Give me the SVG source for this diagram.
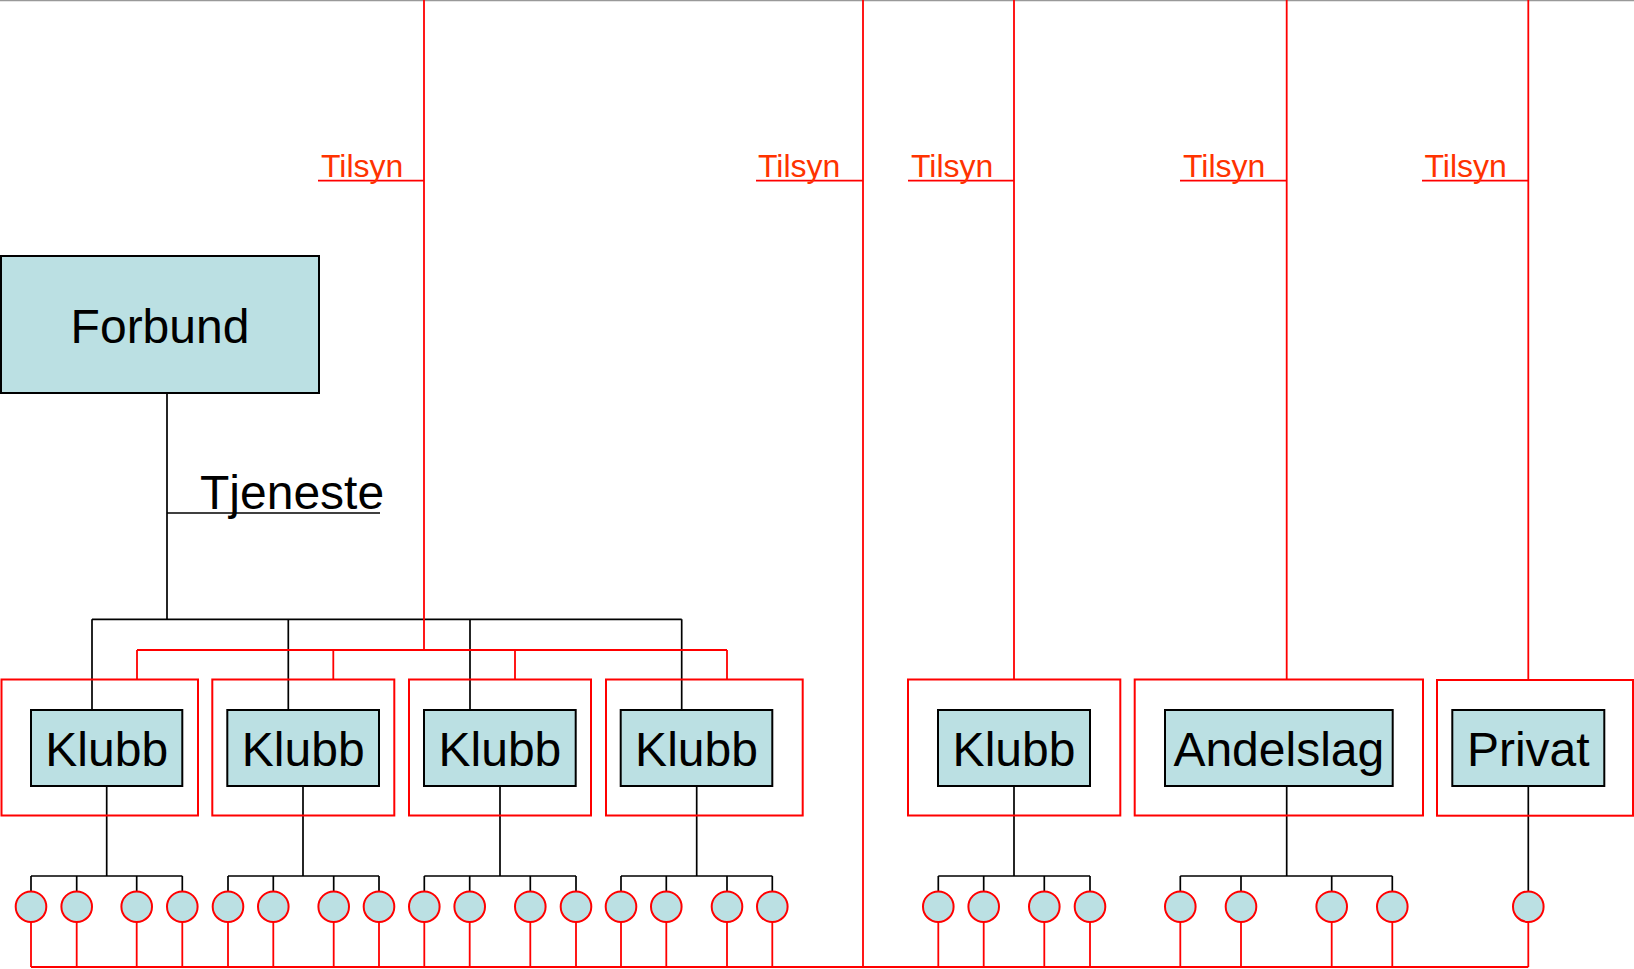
<svg xmlns="http://www.w3.org/2000/svg" width="1634" height="969" viewBox="0 0 1634 969">
<style>
.node{fill:#BBE0E3;stroke:#000;stroke-width:2}
.frame{fill:none;stroke:#FF0000;stroke-width:2}
.blk{fill:none;stroke:#000;stroke-width:1.7}
.red{fill:none;stroke:#FF0000;stroke-width:1.8}
.dot{fill:#BBE0E3;stroke:#FF0000;stroke-width:2}
.big{font-family:"Liberation Sans",Arial,sans-serif;font-size:48px;fill:#000}
.til{font-family:"Liberation Sans",Arial,sans-serif;font-size:32px;fill:#FF3300}
</style>
<rect x="0" y="0" width="1634" height="969" fill="#fff"/>
<line x1="0" y1="0.5" x2="1634" y2="0.5" stroke="#999" stroke-width="1.5"/>

<g id="connectors">
  <path class="blk" d="M167,393 V619.3 M92,619.3 H681.7 M92,619.3 V710 M288.3,619.3 V710 M470,619.3 V710 M681.7,619.3 V710"/>
  <path class="blk" d="M167,513 H380"/>
  <path class="red" d="M424,0 V650 M318,180.7 H424 M137,650 H727 M137,650 V679.5 M333.3,650 V679.5 M515,650 V679.5 M727,650 V679.5"/>
  <path class="red" d="M863,0 V967 M756,180.7 H863"/>
  <path class="red" d="M1014,0 V679.5 M908,180.7 H1014"/>
  <path class="red" d="M1286.7,0 V679.5 M1180,180.7 H1286.7"/>
  <path class="red" d="M1528.3,0 V680 M1422,180.7 H1528.3"/>
  <path class="blk" d="M106.7,786 V876 M31,876 H182.3 M31,876 V891.4 M76.7,876 V891.4 M136.7,876 V891.4 M182.3,876 V891.4"/>
  <path class="blk" d="M303,786 V876 M228,876 H379 M228,876 V891.4 M273.3,876 V891.4 M333.7,876 V891.4 M379,876 V891.4"/>
  <path class="blk" d="M500,786 V876 M424.3,876 H576 M424.3,876 V891.4 M469.7,876 V891.4 M530.3,876 V891.4 M576,876 V891.4"/>
  <path class="blk" d="M696.7,786 V876 M621,876 H772.3 M621,876 V891.4 M666.3,876 V891.4 M727,876 V891.4 M772.3,876 V891.4"/>
  <path class="blk" d="M1014,786 V876 M938.3,876 H1090 M938.3,876 V891.4 M983.7,876 V891.4 M1044.3,876 V891.4 M1090,876 V891.4"/>
  <path class="blk" d="M1286.7,786 V876 M1180.3,876 H1392.3 M1180.3,876 V891.4 M1241,876 V891.4 M1331.7,876 V891.4 M1392.3,876 V891.4"/>
  <path class="blk" d="M1528.3,786 V891.4"/>
  <path class="red" d="M31,967 H1528.3
    M31,922 V967 M76.7,922 V967 M136.7,922 V967 M182.3,922 V967
    M228,922 V967 M273.3,922 V967 M333.7,922 V967 M379,922 V967
    M424.3,922 V967 M469.7,922 V967 M530.3,922 V967 M576,922 V967
    M621,922 V967 M666.3,922 V967 M727,922 V967 M772.3,922 V967
    M938.3,922 V967 M983.7,922 V967 M1044.3,922 V967 M1090,922 V967
    M1180.3,922 V967 M1241,922 V967 M1331.7,922 V967 M1392.3,922 V967
    M1528.3,922 V967"/>
</g>

<g id="tilsyn-labels">
  <text class="til" x="321" y="177">Tilsyn</text>
  <text class="til" x="758" y="177">Tilsyn</text>
  <text class="til" x="911" y="177">Tilsyn</text>
  <text class="til" x="1183" y="177">Tilsyn</text>
  <text class="til" x="1424.5" y="177">Tilsyn</text>
</g>
<g id="tjeneste-label">
  <text class="big" x="200" y="509">Tjeneste</text>
</g>

<g id="forbund">
  <rect class="node" x="1" y="256" width="318" height="137"/>
  <text class="big" x="160" y="343" text-anchor="middle">Forbund</text>
</g>

<g id="klubb1">
  <rect class="frame" x="1.5" y="679.5" width="196.5" height="136"/>
  <rect class="node" x="31" y="710" width="151.3" height="76"/>
  <text class="big" x="106.7" y="765.7" text-anchor="middle">Klubb</text>
</g>
<g id="klubb2">
  <rect class="frame" x="212.3" y="679.5" width="182" height="136"/>
  <rect class="node" x="227.3" y="710" width="151.7" height="76"/>
  <text class="big" x="303.2" y="765.7" text-anchor="middle">Klubb</text>
</g>
<g id="klubb3">
  <rect class="frame" x="409" y="679.5" width="182" height="136"/>
  <rect class="node" x="424" y="710" width="151.7" height="76"/>
  <text class="big" x="499.9" y="765.7" text-anchor="middle">Klubb</text>
</g>
<g id="klubb4">
  <rect class="frame" x="606" y="679.5" width="196.7" height="136"/>
  <rect class="node" x="620.7" y="710" width="151.6" height="76"/>
  <text class="big" x="696.5" y="765.7" text-anchor="middle">Klubb</text>
</g>
<g id="klubb5">
  <rect class="frame" x="908" y="679.5" width="212.3" height="136"/>
  <rect class="node" x="938" y="710" width="152" height="76"/>
  <text class="big" x="1014" y="765.7" text-anchor="middle">Klubb</text>
</g>
<g id="andelslag">
  <rect class="frame" x="1134.7" y="679.5" width="288.3" height="136"/>
  <rect class="node" x="1165" y="710" width="227.7" height="76"/>
  <text class="big" x="1278.8" y="765.7" text-anchor="middle">Andelslag</text>
</g>
<g id="privat">
  <rect class="frame" x="1437" y="680" width="196" height="135.7"/>
  <rect class="node" x="1452.3" y="710" width="152" height="76"/>
  <text class="big" x="1528.3" y="765.7" text-anchor="middle">Privat</text>
</g>

<g id="members">
  <circle class="dot" cx="31" cy="906.7" r="15.3"/>
  <circle class="dot" cx="76.7" cy="906.7" r="15.3"/>
  <circle class="dot" cx="136.7" cy="906.7" r="15.3"/>
  <circle class="dot" cx="182.3" cy="906.7" r="15.3"/>
  <circle class="dot" cx="228" cy="906.7" r="15.3"/>
  <circle class="dot" cx="273.3" cy="906.7" r="15.3"/>
  <circle class="dot" cx="333.7" cy="906.7" r="15.3"/>
  <circle class="dot" cx="379" cy="906.7" r="15.3"/>
  <circle class="dot" cx="424.3" cy="906.7" r="15.3"/>
  <circle class="dot" cx="469.7" cy="906.7" r="15.3"/>
  <circle class="dot" cx="530.3" cy="906.7" r="15.3"/>
  <circle class="dot" cx="576" cy="906.7" r="15.3"/>
  <circle class="dot" cx="621" cy="906.7" r="15.3"/>
  <circle class="dot" cx="666.3" cy="906.7" r="15.3"/>
  <circle class="dot" cx="727" cy="906.7" r="15.3"/>
  <circle class="dot" cx="772.3" cy="906.7" r="15.3"/>
  <circle class="dot" cx="938.3" cy="906.7" r="15.3"/>
  <circle class="dot" cx="983.7" cy="906.7" r="15.3"/>
  <circle class="dot" cx="1044.3" cy="906.7" r="15.3"/>
  <circle class="dot" cx="1090" cy="906.7" r="15.3"/>
  <circle class="dot" cx="1180.3" cy="906.7" r="15.3"/>
  <circle class="dot" cx="1241" cy="906.7" r="15.3"/>
  <circle class="dot" cx="1331.7" cy="906.7" r="15.3"/>
  <circle class="dot" cx="1392.3" cy="906.7" r="15.3"/>
  <circle class="dot" cx="1528.3" cy="906.7" r="15.3"/>
</g>
</svg>
